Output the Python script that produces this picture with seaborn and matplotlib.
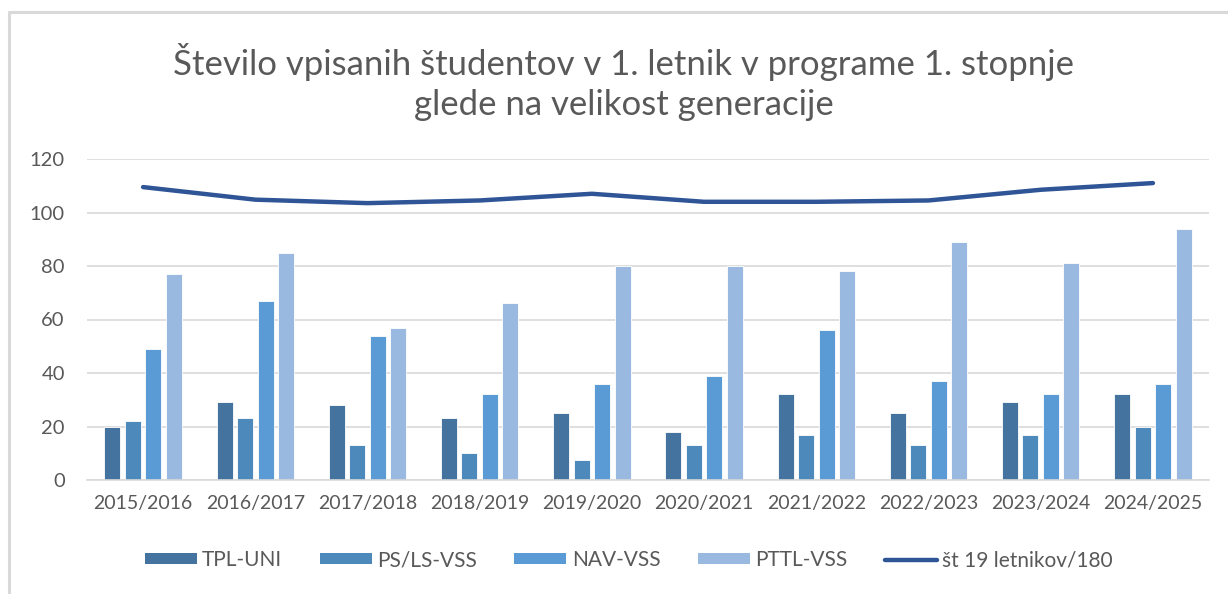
import matplotlib
matplotlib.use('Agg')
import matplotlib.pyplot as plt
from matplotlib.patches import Patch
from matplotlib.lines import Line2D
import pandas as pd
import seaborn as sns

# Podatki
leta = ['2015/2016', '2016/2017', '2017/2018', '2018/2019', '2019/2020',
        '2020/2021', '2021/2022', '2022/2023', '2023/2024', '2024/2025']
programi = ['TPL-UNI', 'PS/LS-VSS', 'NAV-VSS', 'PTTL-VSS']
tpl_uni = [20, 29, 28, 23, 25, 18, 32, 25, 29, 32]
ps_ls_vss = [22, 23, 13, 10, 7.5, 13, 17, 13, 17, 20]
nav_vss = [49, 67, 54, 32, 36, 39, 56, 37, 32, 36]
pttl_vss = [77, 85, 57, 66, 80, 80, 78, 89, 81, 94]
generacija = [109.5, 104.8, 103.5, 104.5, 107, 104, 104, 104.5, 108.5, 111]
oznaka_crte = 'št 19 letnikov/180'

barve = ['#43739E', '#4E89BC', '#5B9BD5', '#9AB9E0']
barva_crte = '#2F5597'
siva = '#595959'
svetlo_siva = '#D9D9D9'

# Tabela v dolgi obliki za seaborn
df = pd.DataFrame({
    'leto': leta * 4,
    'program': [p for p in programi for _ in leta],
    'vpisani': tpl_uni + ps_ls_vss + nav_vss + pttl_vss,
})

sns.set_style('white')
plt.rcParams['font.family'] = ['Lato', 'DejaVu Sans']

fig = plt.figure(figsize=(12.28, 5.94), dpi=100)
ax = fig.add_axes([87 / 1228, 114 / 594, 1122 / 1228, 321 / 594])

sns.barplot(data=df, x='leto', y='vpisani', hue='program', hue_order=programi,
            palette=barve, width=0.73, gap=0.22, ax=ax, legend=False,
            saturation=1, edgecolor='white', linewidth=0.6)
sns.lineplot(x=list(range(len(leta))), y=generacija, ax=ax, color=barva_crte,
             linewidth=3.2, solid_capstyle='round', legend=False)

ax.set_ylim(0, 120)
ax.set_xlim(-0.5, len(leta) - 0.5)
ax.set_yticks(range(0, 121, 20))
ax.yaxis.grid(True, color=svetlo_siva, linewidth=1.2)
ax.set_axisbelow(True)
for s in ['top', 'right', 'left']:
    ax.spines[s].set_visible(False)
ax.spines['bottom'].set_color(svetlo_siva)
ax.spines['bottom'].set_linewidth(1.2)
ax.tick_params(axis='both', length=0, colors=siva)
ax.tick_params(axis='y', pad=16, labelsize=14.5)
ax.tick_params(axis='x', pad=11, labelsize=14)
ax.set_xlabel('')
ax.set_ylabel('')

fig.text(0.508, 0.862, 'Število vpisanih študentov v 1. letnik v programe 1. stopnje\nglede na velikost generacije',
         ha='center', va='center', fontsize=25, color=siva, linespacing=1.3)

rocaji = [Patch(facecolor=b, edgecolor='none') for b in barve]
rocaji.append(Line2D([], [], color=barva_crte, linewidth=3.2, solid_capstyle='round'))
fig.legend(rocaji, programi + [oznaka_crte], loc='center', bbox_to_anchor=(0.512, 0.057),
           ncol=5, frameon=False, fontsize=15, labelcolor=siva, handlelength=2.5,
           handleheight=0.45, handletextpad=0.25, columnspacing=1.8)

# Okvir grafa
fig.add_artist(Line2D([9 / 1228, 1], [1 - 12 / 594, 1 - 12 / 594], color=svetlo_siva,
                      linewidth=2.2, transform=fig.transFigure))
fig.add_artist(Line2D([9 / 1228, 9 / 1228], [0, 1 - 12 / 594], color=svetlo_siva,
                      linewidth=2.2, transform=fig.transFigure))

fig.savefig('out.png', dpi=100)
